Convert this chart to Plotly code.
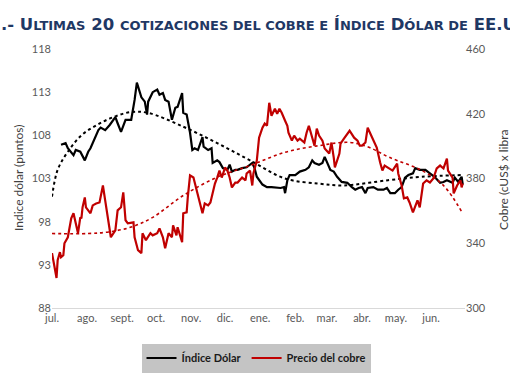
import pandas as pd
import plotly.graph_objects as go

# ---------------- data ----------------
dolar_fechas = [
    "2022-07-09","2022-07-13","2022-07-15","2022-07-20","2022-07-22","2022-07-26","2022-07-30",
    "2022-08-02","2022-08-04","2022-08-08","2022-08-11","2022-08-13","2022-08-17","2022-08-21",
    "2022-08-26","2022-08-28","2022-08-31","2022-09-04","2022-09-09","2022-09-12","2022-09-14",
    "2022-09-18","2022-09-21","2022-09-23","2022-09-24","2022-09-28","2022-10-02","2022-10-04",
    "2022-10-07","2022-10-09","2022-10-12","2022-10-15","2022-10-18","2022-10-20","2022-10-24",
    "2022-10-25","2022-10-28","2022-10-31","2022-11-02","2022-11-04","2022-11-07","2022-11-11",
    "2022-11-12","2022-11-16","2022-11-19","2022-11-20","2022-11-24","2022-11-26","2022-11-29",
    "2022-12-03","2022-12-05","2022-12-07","2022-12-10","2022-12-12","2022-12-16","2022-12-20",
    "2022-12-25","2022-12-27","2022-12-29","2023-01-03","2023-01-07","2023-01-11","2023-01-16",
    "2023-01-19","2023-01-22","2023-01-23","2023-01-25","2023-01-27","2023-02-01","2023-02-05",
    "2023-02-10","2023-02-13","2023-02-16","2023-02-18","2023-02-22","2023-02-25","2023-02-27",
    "2023-03-01","2023-03-04","2023-03-07","2023-03-10","2023-03-14","2023-03-19","2023-03-23",
    "2023-03-26","2023-03-29","2023-04-01","2023-04-04","2023-04-06","2023-04-11","2023-04-15",
    "2023-04-20","2023-04-23","2023-04-26","2023-04-30","2023-05-03","2023-05-06","2023-05-09",
    "2023-05-12","2023-05-16","2023-05-18","2023-05-22","2023-05-27","2023-05-31","2023-06-04",
    "2023-06-09","2023-06-12","2023-06-15","2023-06-20","2023-06-22","2023-06-25","2023-06-28",
    "2023-06-29",
]
dolar_valores = [
    106.9,107.1,106.5,105.7,106.3,106.1,105.1,
    106.1,106.5,107.8,108.6,108.9,108.6,109.2,
    110.1,109.4,108.4,109.8,109.8,112.1,114.1,
    112.4,111.9,110.4,111.9,113.0,113.3,112.7,
    112.9,112.1,111.9,109.8,111.2,111.3,112.9,
    110.6,110.4,108.3,106.3,106.5,106.3,107.8,
    106.7,106.3,106.5,104.8,105.1,104.9,104.2,
    104.0,104.6,103.8,104.0,104.0,104.2,104.3,
    104.8,104.2,103.2,102.3,102.0,102.0,101.9,
    101.9,102.0,101.3,102.8,103.4,103.4,103.8,
    104.0,104.3,105.1,104.8,104.6,104.8,105.5,
    104.9,104.0,103.8,103.2,102.6,102.5,102.0,
    101.7,101.9,102.0,101.3,101.9,102.0,101.7,
    101.7,101.9,101.3,101.3,101.7,102.0,103.1,
    103.4,103.6,104.2,104.0,104.0,103.6,103.2,
    102.5,102.6,102.8,102.5,103.1,102.6,103.2,
    102.3,
]

cobre_fechas = [
    "2022-07-01","2022-07-04","2022-07-05","2022-07-06","2022-07-08","2022-07-09","2022-07-11",
    "2022-07-12","2022-07-15","2022-07-18","2022-07-20","2022-07-22","2022-07-24","2022-07-26",
    "2022-07-27","2022-07-28","2022-07-30","2022-07-31","2022-08-04","2022-08-06","2022-08-09",
    "2022-08-12","2022-08-13","2022-08-15","2022-08-17","2022-08-19","2022-08-22","2022-08-26",
    "2022-08-28","2022-08-31","2022-09-02","2022-09-04","2022-09-06","2022-09-11","2022-09-12",
    "2022-09-15","2022-09-18","2022-09-19","2022-09-22","2022-09-26","2022-09-28","2022-10-02",
    "2022-10-04","2022-10-07","2022-10-09","2022-10-12","2022-10-15","2022-10-16","2022-10-19",
    "2022-10-20","2022-10-24","2022-10-25","2022-10-28","2022-10-29","2022-10-31","2022-11-03",
    "2022-11-06","2022-11-09","2022-11-11","2022-11-13","2022-11-16","2022-11-18","2022-11-19",
    "2022-11-20","2022-11-22","2022-11-24","2022-11-26","2022-11-28","2022-12-01","2022-12-03",
    "2022-12-05","2022-12-07","2022-12-10","2022-12-12","2022-12-16","2022-12-19","2022-12-20",
    "2022-12-23","2022-12-25","2022-12-26","2022-12-29","2022-12-31","2023-01-03","2023-01-05",
    "2023-01-07","2023-01-09","2023-01-10","2023-01-11","2023-01-14","2023-01-16","2023-01-18",
    "2023-01-20","2023-01-23","2023-01-25","2023-01-26","2023-01-29","2023-01-31","2023-02-03",
    "2023-02-05","2023-02-09","2023-02-11","2023-02-13","2023-02-16","2023-02-18","2023-02-20",
    "2023-02-22","2023-02-25","2023-02-27","2023-03-03","2023-03-05","2023-03-07","2023-03-08",
    "2023-03-12","2023-03-13","2023-03-16","2023-03-19","2023-03-21","2023-03-25","2023-03-28",
    "2023-03-30","2023-04-01","2023-04-04","2023-04-06","2023-04-08","2023-04-11","2023-04-14",
    "2023-04-17","2023-04-19","2023-04-21","2023-04-24","2023-04-28","2023-05-02","2023-05-03",
    "2023-05-06","2023-05-08","2023-05-11","2023-05-13","2023-05-16","2023-05-20","2023-05-22",
    "2023-05-24","2023-05-25","2023-05-28","2023-05-31","2023-06-03","2023-06-06","2023-06-09",
    "2023-06-12","2023-06-15","2023-06-16","2023-06-20","2023-06-21","2023-06-24","2023-06-27",
    "2023-06-28","2023-06-29",
]
cobre_valores = [
    333.9,323.4,318.5,329.5,334.5,331.4,332.6,
    340.0,343.7,355.4,358.5,352.3,346.2,356.0,
    355.4,362.2,368.3,362.2,358.5,363.4,364.6,
    365.2,368.3,375.7,366.5,356.0,343.7,348.0,
    360.3,362.2,371.4,354.2,352.3,352.9,343.7,
    335.7,333.9,346.2,341.9,346.2,344.9,346.2,
    349.2,343.7,336.9,346.2,343.7,351.1,344.9,
    349.9,340.6,358.5,359.1,368.3,381.9,380.6,
    372.6,363.4,358.5,364.6,363.4,365.2,368.3,
    372.6,376.9,380.6,384.9,380.6,386.8,384.9,
    380.6,374.5,377.5,377.5,380.6,378.8,383.1,
    384.9,375.7,383.1,391.1,405.2,411.4,413.9,
    412.6,426.8,421.9,418.8,423.1,420.0,423.1,
    420.6,415.7,412.6,408.3,403.4,406.5,403.4,
    404.6,402.2,408.3,412.6,405.2,400.3,410.8,
    406.5,403.4,398.5,395.4,402.2,392.9,386.8,
    395.4,401.5,404.6,407.7,409.5,405.2,403.4,
    400.3,400.3,402.2,411.4,408.3,403.4,399.1,
    389.9,384.9,388.0,386.8,384.9,389.2,383.1,
    375.7,367.7,368.3,365.2,359.1,366.5,362.2,
    370.8,376.9,378.8,377.5,380.0,386.2,388.0,
    386.2,392.3,384.9,380.6,370.8,375.7,378.8,
    374.5,376.9,
]

# polynomial trendlines
tend_dolar_fechas = ["2022-07-01","2022-07-06","2022-07-15","2022-07-27","2022-08-11","2022-08-26",
                     "2022-09-09","2022-09-24","2022-10-25","2022-11-24","2022-12-23","2023-01-23",
                     "2023-02-22","2023-03-16","2023-04-24","2023-05-24","2023-06-29"]
tend_dolar_valores = [100.9, 104.0, 106.1, 108.0, 109.3, 110.2,
                      110.7, 110.6, 109.0, 107.1, 105.1, 103.0,
                      102.4, 102.2, 102.8, 103.2, 103.4]

tend_cobre_fechas = ["2022-07-01","2022-08-02","2022-08-20","2022-09-09","2022-09-28","2022-10-25",
                     "2022-11-24","2022-12-23","2023-01-23","2023-02-22","2023-03-21","2023-04-07",
                     "2023-04-25","2023-05-24","2023-06-12","2023-06-29"]
tend_cobre_valores = [346.0, 346.0, 347.0, 350.0, 356.0, 369.5,
                      380.8, 388.0, 396.2, 400.3, 402.3, 399.3,
                      393.1, 384.9, 375.7, 358.3]

meses_fechas = ["2022-07-01","2022-08-01","2022-09-01","2022-10-01","2022-11-01","2022-12-01",
                "2023-01-01","2023-02-01","2023-03-01","2023-04-01","2023-05-01","2023-06-01"]
meses_texto = ["jul.","ago.","sept.","oct.","nov.","dic.","ene.","feb.","mar.","abr.","may.","jun."]

izq_ticks = [88, 93, 98, 103, 108, 113, 118]
der_ticks = [300, 340, 380, 420, 460]

NEGRO = "#000000"
ROJO = "#C00000"

fig = go.Figure()
fig.add_trace(go.Scatter(x=tend_dolar_fechas, y=tend_dolar_valores, mode="lines", showlegend=False,
                         line=dict(color=NEGRO, width=2, dash="dot", shape="spline", smoothing=1.0),
                         hoverinfo="skip"))
fig.add_trace(go.Scatter(x=tend_cobre_fechas, y=tend_cobre_valores, mode="lines", showlegend=False,
                         yaxis="y2",
                         line=dict(color=ROJO, width=1.6, dash="dot", shape="spline", smoothing=1.0),
                         hoverinfo="skip"))
fig.add_trace(go.Scatter(x=dolar_fechas, y=dolar_valores, mode="lines", name="<b>Índice Dólar</b>",
                         line=dict(color=NEGRO, width=2.2)))
fig.add_trace(go.Scatter(x=cobre_fechas, y=cobre_valores, mode="lines", name="<b>Precio del cobre</b>",
                         yaxis="y2", line=dict(color=ROJO, width=2.2)))

TICKFONT = dict(family="Lato, Carlito, Arial", size=11, color="#595959")

fig.update_layout(
    template="none",
    width=510, height=382,
    margin=dict(l=52, r=45, t=49, b=74),
    paper_bgcolor="white", plot_bgcolor="white",
    showlegend=True,
    xaxis=dict(type="date", range=["2022-07-01", "2023-07-01"],
               tickvals=meses_fechas, ticktext=meses_texto,
               tickfont=TICKFONT, showgrid=False, zeroline=False,
               showline=True, linecolor="#D9D9D9", linewidth=1,
               ticks="", automargin=False),
    yaxis=dict(range=[88, 118], tickvals=izq_ticks, tickfont=TICKFONT,
               showgrid=False, zeroline=False, showline=False, ticks="",
               automargin=False),
    yaxis2=dict(range=[300, 460], tickvals=der_ticks, tickfont=TICKFONT,
                overlaying="y", side="right", showgrid=False, zeroline=False,
                showline=False, ticks="", automargin=False),
    legend=dict(orientation="h", xref="container", yref="container",
                x=256 / 510, y=1 - 358 / 382, xanchor="center", yanchor="middle",
                bgcolor="#C4C4C4", borderwidth=0,
                font=dict(family="Lato, Carlito, Arial", size=11, color="#1A1A1A")),
)

SC = "<span style='font-size:13px'>"
titulo = ("<b>.- U" + SC + "LTIMAS</span> 20 " + SC + "COTIZACIONES DEL COBRE E</span> Í"
          + SC + "NDICE</span> D" + SC + "ÓLAR DE</span> EE.UU</b>")
fig.add_annotation(text=titulo, xref="paper", yref="paper",
                   x=(-1 - 52) / 413, y=(308 - 25) / 259, xanchor="left", yanchor="middle",
                   showarrow=False, font=dict(family="DejaVu Sans", size=16.5, color="#1F3864"))

fig.add_annotation(text="Indice dólar (puntos)", xref="paper", yref="paper",
                   x=(18 - 52) / 413, y=(308 - 178) / 259, textangle=-90,
                   xanchor="center", yanchor="middle", showarrow=False,
                   font=dict(family="Lato, Carlito, Arial", size=12, color="#404040"))
fig.add_annotation(text="Cobre (cUS$ x libra", xref="paper", yref="paper",
                   x=(503 - 52) / 413, y=(308 - 180) / 259, textangle=-90,
                   xanchor="center", yanchor="middle", showarrow=False,
                   font=dict(family="Lato, Carlito, Arial", size=12, color="#404040"))

fig.write_html("out.html", config={"displayModeBar": False},
               post_script="document.body.style.margin='0px';document.body.style.overflow='hidden';")
